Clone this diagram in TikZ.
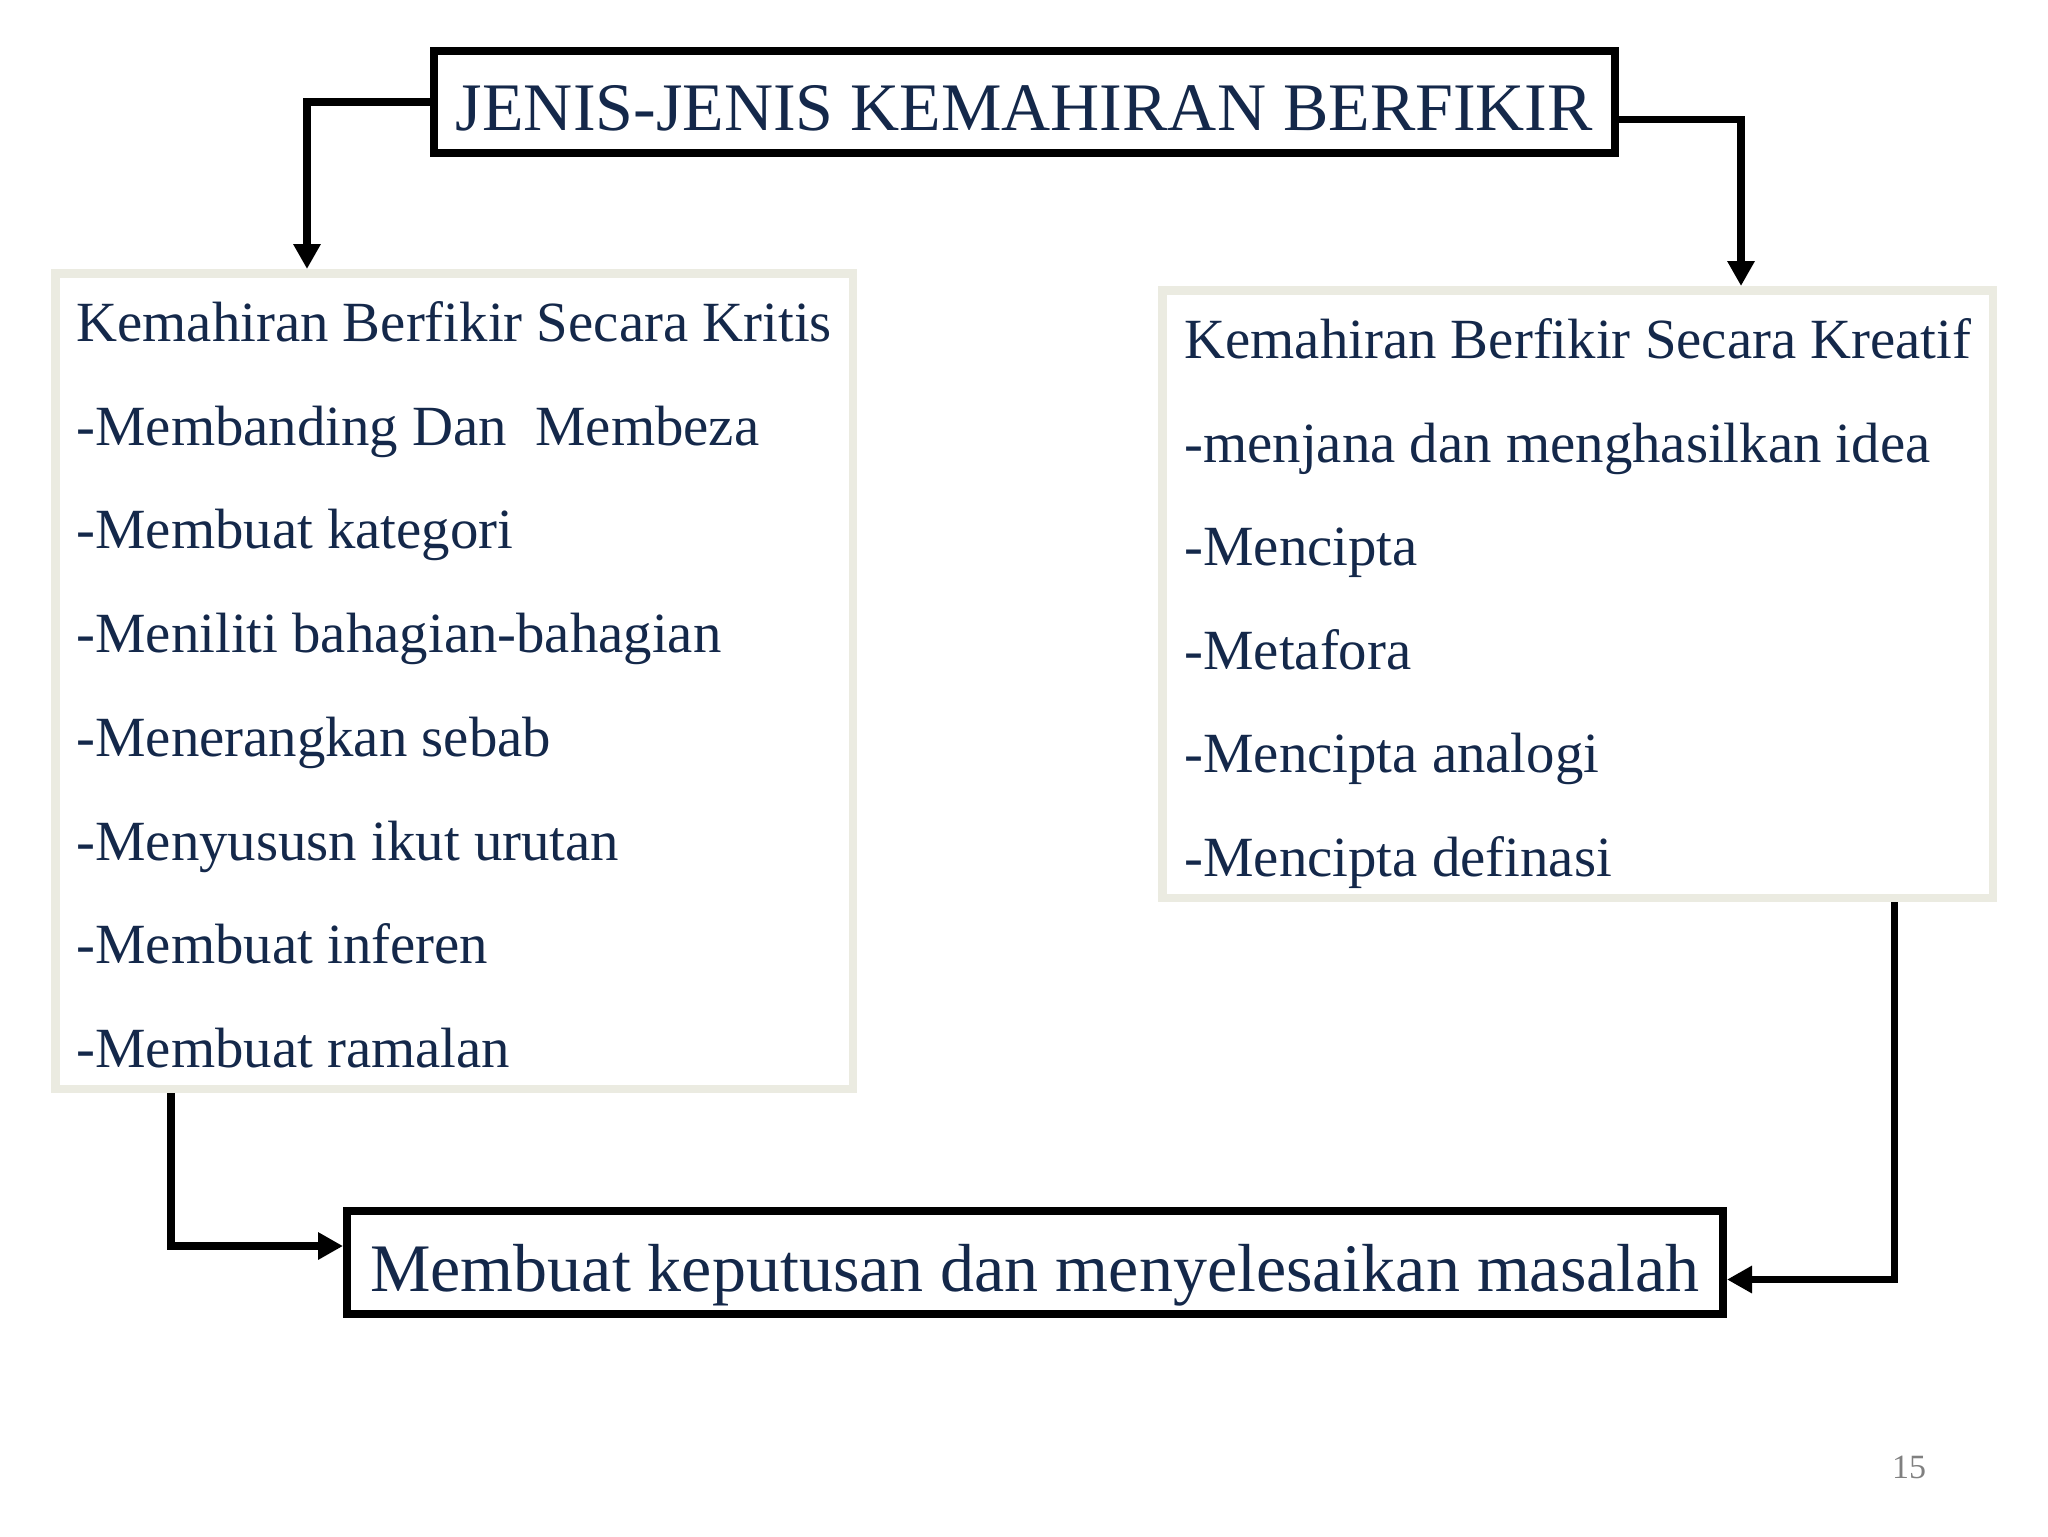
\documentclass[tikz,border=0pt]{standalone}
\usepackage{fontspec}
\setmainfont{Liberation Serif}
\usetikzlibrary{calc}
\usetikzlibrary{positioning}
\usetikzlibrary{arrows.meta}
\definecolor{navy}{HTML}{14284A}
\definecolor{paleline}{HTML}{EBEBE1}
\tikzset{
    headbox/.style={
        draw=black,          % black frame
        line width=4pt,
        inner sep=0pt,
        text=navy,
        font=\fontsize{34}{40}\selectfont,
        text depth=0pt
    },
    listbox/.style={
        draw=paleline,       % pale frame
        line width=4.25pt,
        inner sep=0pt
    },
    item/.style={
        anchor=base west,
        inner sep=0pt,
        text=navy,
        font=\fontsize{28.4}{34}\selectfont
    },
    link/.style={
        line width=3.8pt,
        -{Triangle[width=13pt,length=12.5pt]}
    }
}
\begin{document}
\begin{tikzpicture}[x=0.5pt, y=-0.5pt]

\useasboundingbox (0,0) rectangle (2048,1536);

% boxes
\node[headbox, minimum width=590.5pt, minimum height=51pt, text height=28pt] (title) at (1024.5,102) {JENIS-JENIS KEMAHIRAN BERFIKIR};
\node[listbox, minimum width=398.75pt, minimum height=407.75pt] (kritis) at (454,681) {};
\node[listbox, minimum width=415.25pt, minimum height=303.75pt] (kreatif) at (1577.5,594) {};
\node[headbox, minimum width=688pt, minimum height=51.5pt, text height=28.5pt] (hasil) at (1035,1262.5) {Membuat keputusan dan menyelesaikan masalah};

% left list
\node[item] (k0) at (76,341) {Kemahiran Berfikir Secara Kritis};
\node[item] (k1) at (76,445) {-Membanding Dan\ \ Membeza};
\node[item] (k2) at (76,548) {-Membuat kategori};
\node[item] (k3) at (76,652) {-Meniliti bahagian-bahagian};
\node[item] (k4) at (76,756) {-Menerangkan sebab};
\node[item] (k5) at (76,860) {-Menyususn ikut urutan};
\node[item] (k6) at (76,963) {-Membuat inferen};
\node[item] (k7) at (76,1067) {-Membuat ramalan};

% right list
\node[item] (c0) at (1184,358) {Kemahiran Berfikir Secara Kreatif};
\node[item] (c1) at (1184,462) {-menjana dan menghasilkan idea};
\node[item] (c2) at (1184,565) {-Mencipta};
\node[item] (c3) at (1184,669) {-Metafora};
\node[item] (c4) at (1184,772) {-Mencipta analogi};
\node[item] (c5) at (1184,876) {-Mencipta definasi};

% page number
\node[anchor=base, inner sep=0pt, text=gray, font=\fontsize{17}{20}\selectfont] (hal) at (1909,1478) {15};

% arrows
\coordinate (KX) at (307,0);
\coordinate (CX) at (1741,0);
\coordinate (BX) at (171,0);
\coordinate (DX) at (1894.5,0);

\draw[link] (title.west) -| (KX |- kritis.north);
\draw[link] ([yshift=-8.75pt]title.east) -| (CX |- kreatif.north);
\draw[link] (BX |- kritis.south) |- ([yshift=8.25pt]hasil.west);
\draw[link] (DX |- kreatif.south) |- ([yshift=-8.5pt]hasil.east);

\end{tikzpicture}
\end{document}
